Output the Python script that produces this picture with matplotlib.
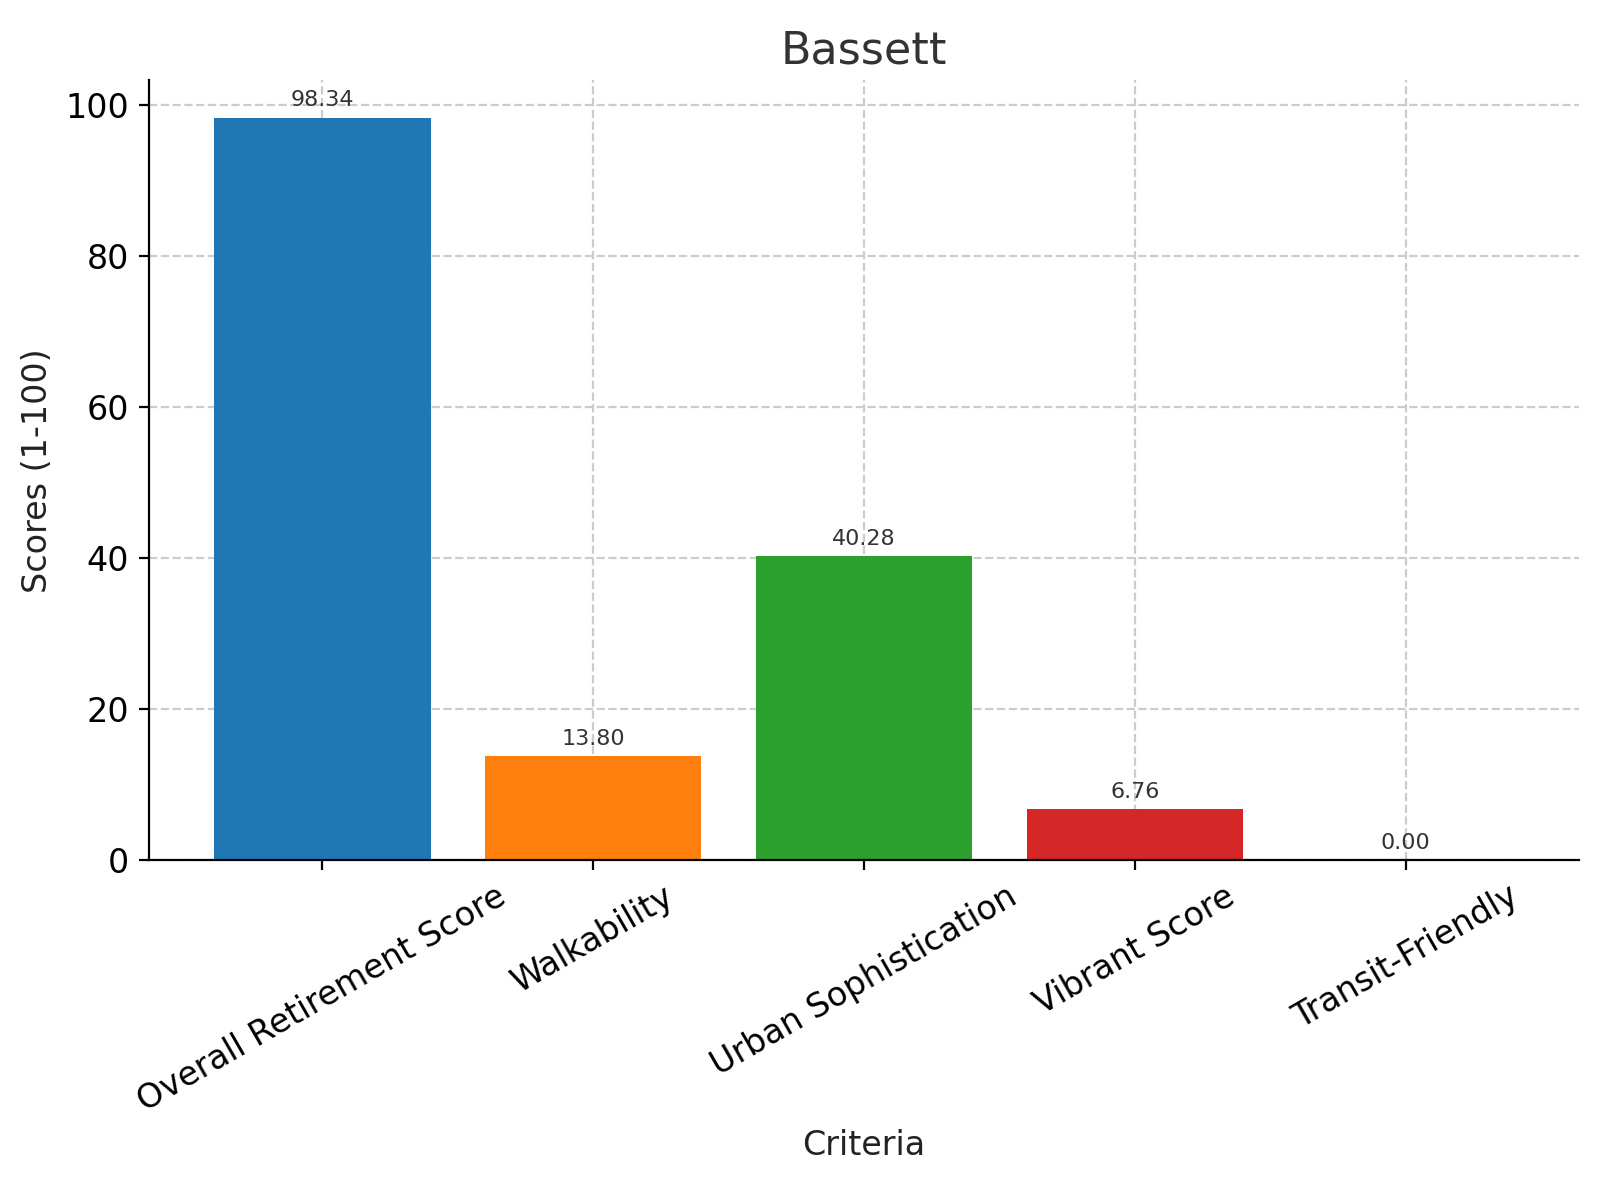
import matplotlib
matplotlib.use("Agg")
import matplotlib.pyplot as plt

categories = ["Overall Retirement Score", "Walkability", "Urban Sophistication", "Vibrant Score", "Transit-Friendly"]
values = [98.34, 13.80, 40.28, 6.76, 0.00]
colors = ["#1f77b4", "#ff7f0e", "#2ca02c", "#d62728", "#9467bd"]

fig, ax = plt.subplots(figsize=(8, 6), dpi=200)
fig.subplots_adjust(left=0.093, right=0.987, top=0.933, bottom=0.283)
bars = ax.bar(categories, values, color=colors, zorder=2)
for b, v in zip(bars, values):
    ax.text(b.get_x() + b.get_width() / 2, v + 1, f"{v:.2f}", ha="center", va="bottom", fontsize=8, color="#333333", zorder=3)
ax.set_ylim(0, 103.3)
ax.set_title("Bassett", fontsize=16, color="#333333")
ax.set_xlabel("Criteria", fontsize=12, color="#222222")
ax.set_ylabel("Scores (1-100)", fontsize=12, color="#222222")
ax.grid(True, linestyle="--", color="#cccccc", linewidth=0.8, zorder=3)
ax.spines["top"].set_visible(False)
ax.spines["right"].set_visible(False)
plt.setp(ax.get_xticklabels(), rotation=30, ha="center", fontsize=12)
ax.tick_params(axis="y", labelsize=12)
fig.savefig("out.png")
